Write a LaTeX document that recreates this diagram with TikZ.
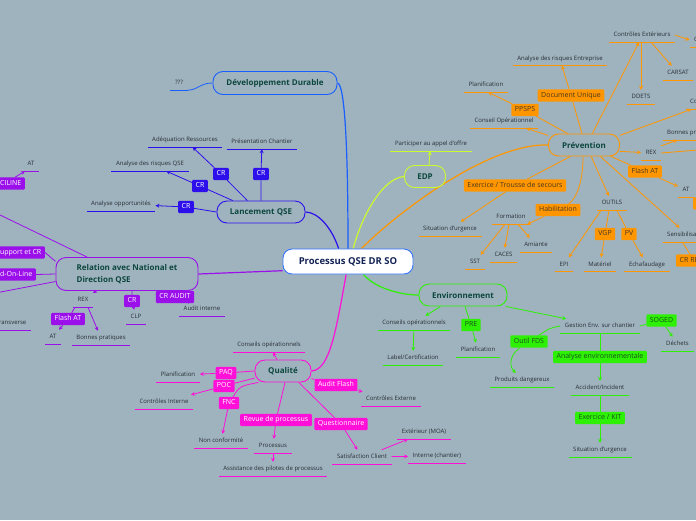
\documentclass[tikz,border=0pt]{standalone}
\usepackage{fontspec}
\setmainfont{Open Sans}
\usetikzlibrary{
    arrows.meta,
    positioning,
    calc,
    backgrounds
}
\definecolor{bgcol}{RGB}{159,179,191}
\definecolor{rootblue}{RGB}{55,115,255}
\definecolor{roottext}{RGB}{20,35,85}
\definecolor{topictext}{RGB}{12,70,60}
\definecolor{leaftext}{RGB}{40,45,50}
\definecolor{ddblue}{RGB}{25,95,255}
\definecolor{lqblue}{RGB}{45,15,235}
\definecolor{relpurple}{RGB}{155,15,235}
\definecolor{qualpink}{RGB}{255,15,215}
\definecolor{edplime}{RGB}{205,250,45}
\definecolor{prevorange}{RGB}{255,150,0}
\definecolor{envgreen}{RGB}{45,240,5}
\definecolor{tagdark}{RGB}{70,55,35}
\definecolor{envdark}{RGB}{25,80,30}

\begin{document}
\begin{tikzpicture}[
        x=1pt, y=-1pt,
        root/.style={draw=rootblue, fill=white, line width=0.9pt, rounded corners=9pt, minimum width=130pt, minimum height=25pt, font=\fontsize{9.5}{11}\selectfont\bfseries, text=roottext},
        topic/.style={draw=#1, fill=bgcol, line width=0.9pt, rounded corners=10pt, minimum height=22pt, font=\fontsize{8}{11.5}\selectfont\bfseries, text=topictext},
        tag/.style={fill=#1, rounded corners=1pt, inner xsep=3.5pt, inner ysep=2.8pt, text height=5pt, text depth=1.5pt, font=\fontsize{7}{8}\selectfont, text=white},
        leaf/.style={font=\fontsize{6}{7}\selectfont, text=leaftext, inner xsep=4.5pt, inner ysep=4pt, text height=4.6pt, text depth=1.4pt,
            append after command={(\tikzlastnode.south west) edge[draw=#1, line width=1.2pt] (\tikzlastnode.south east)}},
        branch/.style={draw=#1, line width=1.2pt},
        link/.style={draw=#1, line width=0.8pt},
        arrow/.style={draw=#1, line width=0.8pt, -{Stealth[length=4pt,width=4pt]}}
    ]
        \useasboundingbox (0,0) rectangle (696,520);
        \begin{scope}[on background layer]
            \fill[bgcol] (0,0) rectangle (696,520);
        \end{scope}

        % Centre
        \node[root] (qse) at (348,261.5) {Processus QSE DR SO};

        % Developpement Durable
        \node[topic=ddblue, minimum width=124pt, minimum height=23pt] (dd) at (275,83) {Développement Durable};
        \node[leaf=ddblue] (ddq) at (179,83) {???};

        % Lancement QSE
        \node[topic=lqblue, minimum width=88pt] (lqse) at (261,212) {Lancement QSE};
        \node[leaf=lqblue] (adeq) at (185,140) {Adéquation Ressources};
        \node[leaf=lqblue] (pres) at (262,142) {Présentation Chantier};
        \node[leaf=lqblue] (arqse) at (150,164) {Analyse des risques QSE};
        \node[leaf=lqblue] (opp) at (121,204) {Analyse opportunités};
        \node[tag=lqblue] (cr1) at (221,174) {CR};
        \node[tag=lqblue] (cr2) at (261,174) {CR};
        \node[tag=lqblue] (cr3) at (200,186) {CR};
        \node[tag=lqblue] (cr4) at (186,207) {CR};

        % Relation National
        \node[topic=relpurple, minimum width=142pt, minimum height=33pt, align=left] (rel) at (127,274) {Relation avec National et\\Direction QSE};
        \node[tag=relpurple, anchor=east] (supcr) at (45,252.5) {Support et CR};
        \node[tag=relpurple, anchor=east] (dol) at (36,274.5) {d-On-Line};
        \node[tag=relpurple, anchor=east] (cil) at (25,183.5) {CILINE};
        \node[leaf=relpurple] (at1) at (31,164) {AT};
        \node[leaf=relpurple, anchor=east] (trans) at (31,323) {Transverse};
        \node[leaf=relpurple] (rex1) at (83,300) {REX};
        \node[tag=relpurple] (fat1) at (68,319) {Flash AT};
        \node[leaf=relpurple] (at2) at (53,337) {AT};
        \node[leaf=relpurple] (bonp1) at (101,338) {Bonnes pratiques};
        \node[tag=relpurple] (crclp) at (132,301) {CR};
        \node[leaf=relpurple] (clp) at (136,317) {CLP};
        \node[tag=relpurple] (craud) at (175,297) {CR AUDIT};
        \node[leaf=relpurple] (audint) at (202,309) {Audit interne};
        \coordinate (offa) at (-2,292.5);
        \coordinate (offb) at (-2,214);

        % Qualite
        \node[topic=qualpink, minimum width=56pt] (qual) at (283,371) {Qualité};
        \node[leaf=qualpink] (consop1) at (269,345) {Conseils opérationnels};
        \node[tag=qualpink] (paq) at (226,373) {PAQ};
        \node[leaf=qualpink] (planq) at (178,375) {Planification};
        \node[tag=qualpink] (poc) at (224,386) {POC};
        \node[leaf=qualpink] (ctrlint) at (164,402) {Contrôles Interne};
        \node[tag=qualpink] (fnc) at (229,403) {FNC};
        \node[leaf=qualpink] (nonconf) at (221,441) {Non conformité};
        \node[tag=qualpink] (revp) at (276,420) {Revue de processus};
        \node[leaf=qualpink] (proc) at (273,446) {Processus};
        \node[leaf=qualpink] (assist) at (273,469) {Assistance des pilotes de processus};
        \node[tag=qualpink] (aflash) at (336,385) {Audit Flash};
        \node[leaf=qualpink] (ctrlext) at (391,399) {Contrôles Externe};
        \node[tag=qualpink] (quest) at (341,424) {Questionnaire};
        \node[leaf=qualpink] (satcl) at (362,457) {Satisfaction Client};
        \node[leaf=qualpink] (extmoa) at (424,432) {Extérieur (MOA)};
        \node[leaf=qualpink] (intch) at (437,456) {Interne (chantier)};

        % EDP
        \node[topic=edplime, minimum width=41pt] (edp) at (425,176.5) {EDP};
        \node[leaf=edplime] (appel) at (431,144) {Participer au appel d'offre};

        % Prevention
        \node[topic=prevorange, minimum width=71pt] (prev) at (584,145) {Prévention};
        \node[leaf=prevorange] (consop2) at (504,121) {Conseil Opérationnel};
        \node[tag=prevorange, text=tagdark] (ppsps) at (525,110) {PPSPS};
        \node[leaf=prevorange] (planp) at (486,85) {Planification};
        \node[tag=prevorange, text=tagdark] (docu) at (571,95.5) {Document Unique};
        \node[leaf=prevorange] (arent) at (560,58.5) {Analyse des risques Entreprise};
        \node[leaf=prevorange] (ctrlx) at (642,35) {Contrôles Extérieurs};
        \node[leaf=prevorange] (ddets) at (641,97) {DDETS};
        \node[leaf=prevorange] (carsat) at (678,73) {CARSAT};
        \node[leaf=prevorange, anchor=west] (cx) at (689.5,40) {C};
        \node[leaf=prevorange, anchor=west] (co) at (685.5,102) {Co};
        \node[leaf=prevorange] (rex2) at (651,153) {REX};
        \node[leaf=prevorange, anchor=west] (bonp2) at (662.5,133) {Bonnes pratiques};
        \coordinate (offc) at (698,150);
        \node[tag=prevorange, text=tagdark] (fat2) at (645,171.5) {Flash AT};
        \node[leaf=prevorange] (at3) at (686,190) {AT};
        \node[tag=prevorange, anchor=west] (sliver) at (693,203.5) {\phantom{CR}};
        \node[leaf=prevorange, anchor=west] (sensib) at (662.5,235) {Sensibilisation};
        \node[tag=prevorange, text=tagdark, anchor=west] (crrex) at (676,260.5) {CR REX};
        \node[leaf=prevorange] (outils) at (612,203) {OUTILS};
        \node[leaf=prevorange] (epi) at (564,264.5) {EPI};
        \node[tag=prevorange, text=tagdark] (vgp) at (605,234) {VGP};
        \node[leaf=prevorange] (mater) at (600,264.5) {Matériel};
        \node[tag=prevorange, text=tagdark] (pv) at (629,234) {PV};
        \node[leaf=prevorange] (echaf) at (647,264.5) {Echafaudage};
        \node[tag=prevorange, text=tagdark] (habil) at (558,210) {Habilitation};
        \node[leaf=prevorange] (form) at (511,217) {Formation};
        \node[leaf=prevorange] (sst) at (475,262) {SST};
        \node[leaf=prevorange] (caces) at (503.5,255) {CACES};
        \node[leaf=prevorange] (amiante) at (536,245) {Amiante};
        \node[tag=prevorange, text=tagdark] (exts) at (515,185.5) {Exercice / Trousse de secours};
        \node[leaf=prevorange] (situ1) at (450,229) {Situation d'urgence};

        % Environnement
        \node[topic=envgreen, minimum width=88pt] (env) at (463,295) {Environnement};
        \node[leaf=envgreen] (consop3) at (414,323) {Conseils opérationnels};
        \node[leaf=envgreen] (label) at (413,358) {Label/Certification};
        \node[tag=envgreen, text=envdark] (pre) at (471,325) {PRE};
        \node[leaf=envgreen] (plane) at (478,350) {Planification};
        \node[leaf=envgreen] (gestenv) at (600,326) {Gestion Env. sur chantier};
        \node[tag=envgreen, text=envdark] (fds) at (529,341.5) {Outil FDS};
        \node[leaf=envgreen] (proddang) at (522,380) {Produits dangereux};
        \node[tag=envgreen, text=envdark] (soged) at (661.5,320.5) {SOGED};
        \node[leaf=envgreen] (dechets) at (677.5,344) {Déchets};
        \node[tag=envgreen, text=envdark] (anenv) at (600,357) {Analyse environnementale};
        \node[leaf=envgreen] (accid) at (600,388) {Accident/Incident};
        \node[tag=envgreen, text=envdark] (exkit) at (600,418) {Exercice / KIT};
        \node[leaf=envgreen] (situ2) at (600,450) {Situation d'urgence};

        \begin{scope}[on background layer]
        % Branches
        \draw[branch=ddblue] (qse.north) .. controls (348,150) and (345,84) .. (dd.east);
        \draw[branch=lqblue] (qse.126) .. controls (332,228) and (318,212) .. (lqse.east);
        \draw[branch=relpurple] (qse.188) -- (rel.east);
        \draw[branch=qualpink] (qse.262) .. controls (336,330) and (330,370) .. (qual.east);
        \draw[branch=edplime] (qse.68) .. controls (362,215) and (383,178) .. (edp.west);
        \draw[branch=prevorange] (qse.44) .. controls (400,210) and (490,143) .. (prev.west);
        \draw[branch=envgreen] (qse.-40) .. controls (375,288) and (400,295) .. (env.west);

        % Developpement Durable
        \draw[link=ddblue] (dd.west) .. controls (200,83) and (198,90) .. (ddq.south east);

        % Lancement QSE
        \draw[arrow=lqblue] (lqse.140) -- (cr1) -- (adeq);
        \draw[arrow=lqblue] (lqse.north) -- (cr2) -- (pres);
        \draw[arrow=lqblue] (lqse.158) -- (cr3) -- (arqse);
        \draw[arrow=lqblue] (lqse.west) -- (cr4) -- (opp);

        % Relation National
        \draw[link=relpurple] (supcr.east) -- (rel.170);
        \draw[link=relpurple] (dol.east) -- (rel.west);
        \draw[link=relpurple] (rel.186) -- (offa);
        \draw[link=relpurple] (rel.157) -- (offb);
        \draw[arrow=relpurple] ([xshift=-10pt]cil.north east) -- ([xshift=2pt]at1.south west);
        \draw[arrow=relpurple] (rel.209) -- (rex1.north east);
        \draw[arrow=relpurple] ([xshift=2pt]rex1.south west) -- (fat1) -- (at2);
        \draw[arrow=relpurple] ([xshift=-5pt]rex1.south east) -- (bonp1);
        \draw[arrow=relpurple] ([xshift=5pt]rel.south) -- (crclp) -- (clp);
        \draw[link=relpurple] (rel) -- (craud) -- (audint);

        % Qualite
        \draw[arrow=qualpink] ([xshift=-6pt]qual.north) -- (consop1);
        \draw[arrow=qualpink] (qual.west) -- (paq) -- (planq);
        \draw[arrow=qualpink] (qual.194) -- (poc) -- (ctrlint);
        \draw[arrow=qualpink] (qual.205) .. controls (240,386) .. (fnc) -- (nonconf);
        \draw[arrow=qualpink] (qual.-80) -- (revp) -- (proc);
        \draw[arrow=qualpink] (proc) -- (assist);
        \draw[arrow=qualpink] (qual.-15) -- (aflash) -- (ctrlext);
        \draw[arrow=qualpink] (qual.-36) -- (quest) -- (satcl);
        \draw[arrow=qualpink] ([xshift=-10pt]satcl.north east) -- ([xshift=11pt]extmoa.south west);
        \draw[arrow=qualpink] (satcl) -- (intch);

        % EDP
        \draw[arrow=edplime] ([xshift=4pt]edp.north) -- ([xshift=-1pt]appel.south);

        % Prevention
        \draw[arrow=prevorange] (prev.165) -- (consop2);
        \draw[arrow=prevorange] (prev.145) -- (ppsps) -- ([xshift=2pt]planp.south);
        \draw[arrow=prevorange] (prev.100) -- (docu) -- ([xshift=2pt]arent.south);
        \draw[arrow=prevorange] (prev.54) -- ([xshift=-3pt]ctrlx.south);
        \draw[arrow=prevorange] ([xshift=-1pt]ctrlx.south) -- (ddets);
        \draw[arrow=prevorange] ([xshift=9pt]ctrlx.south) -- (carsat);
        \draw[arrow=prevorange] (ctrlx.east) -- (cx.west);
        \draw[arrow=prevorange] (prev.15) -- ([xshift=6pt]co.south west);
        \draw[arrow=prevorange] (prev.-10) -- (rex2);
        \draw[arrow=prevorange] (rex2.north east) -- ([xshift=15pt]bonp2.south west);
        \draw[link=prevorange] (rex2.east) -- (offc);
        \draw[arrow=prevorange] (prev.-23) -- (fat2) -- (at3);
        \draw[link=prevorange] (at3) -- (sliver);
        \draw[arrow=prevorange] (prev.-35) -- ([xshift=17pt]sensib.north west);
        \draw[link=prevorange] ([xshift=20pt]sensib.south west) -- ([xshift=14pt]crrex.north west);
        \draw[arrow=prevorange] (prev.-58) -- (outils);
        \draw[arrow=prevorange] ([xshift=4pt]outils.south west) -- (epi);
        \draw[arrow=prevorange] ([xshift=-3pt]outils.south) -- (vgp) -- (mater);
        \draw[arrow=prevorange] ([xshift=5pt]outils.south) -- (pv) -- (echaf);
        \draw[arrow=prevorange] (prev.-95) .. controls (583,185) and (575,200) .. (habil) -- ([xshift=-3pt]form.south east);
        \draw[arrow=prevorange] ([xshift=-6pt]form.south) -- (sst);
        \draw[arrow=prevorange] ([xshift=-2pt]form.south) -- (caces);
        \draw[arrow=prevorange] ([xshift=7pt]form.south) -- (amiante);
        \draw[arrow=prevorange] (prev.-140) -- (exts) -- (situ1);

        % Environnement
        \draw[arrow=envgreen] (env.207) -- (consop3);
        \draw[arrow=envgreen] (consop3) -- (label);
        \draw[arrow=envgreen] (env.-80) -- (pre) -- (plane);
        \draw[arrow=envgreen] (env.-15) -- ([xshift=6pt]gestenv.north west);
        \draw[arrow=envgreen] (gestenv.west) .. controls (550,328) .. (fds) .. controls (508,356) and (510,368) .. ([xshift=-6pt]proddang.north);
        \draw[arrow=envgreen] (gestenv.east) -- (soged) -- (dechets);
        \draw[arrow=envgreen] (gestenv) -- (anenv) -- (accid);
        \draw[arrow=envgreen] (accid) -- (exkit) -- (situ2);
        \end{scope}
    \end{tikzpicture}
\end{document}
